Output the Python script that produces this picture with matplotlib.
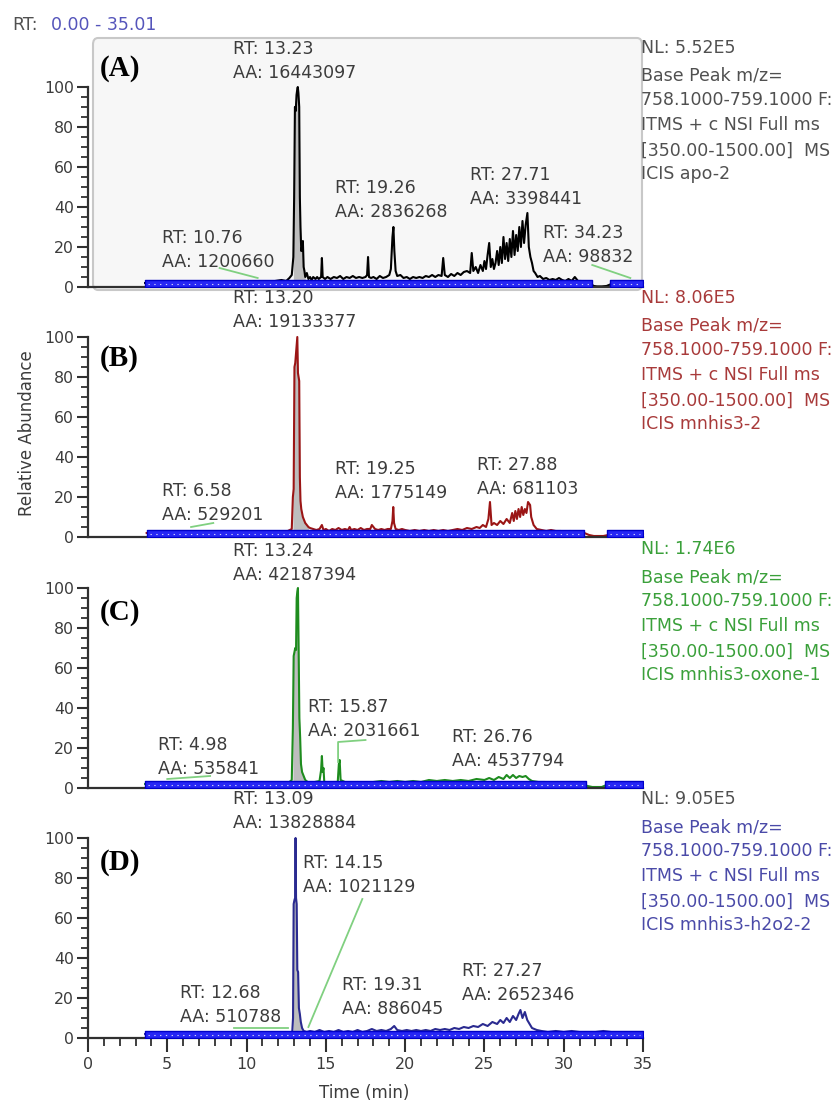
import numpy as np
import matplotlib
matplotlib.use("Agg")
import matplotlib.pyplot as plt
from matplotlib.patches import FancyBboxPatch

# chromatogram traces: (time in min, relative abundance %)
chrom_a = [(3.6, 2), (4.5, 2.5), (5.5, 2), (6.5, 2.5), (7.5, 2), (8.5, 2.5), (9.5, 2), (10.3, 2.5), (10.8, 3),
           (11.3, 2.5), (11.8, 3), (12.2, 3.5), (12.5, 3), (12.7, 4.5), (12.85, 6), (12.95, 15), (13.0, 45),
           (13.05, 90), (13.1, 88), (13.15, 96), (13.2, 99), (13.23, 100), (13.27, 97), (13.32, 90), (13.36, 45),
           (13.4, 30), (13.45, 18), (13.5, 20), (13.55, 23), (13.6, 10), (13.65, 8), (13.7, 5), (13.8, 7),
           (13.9, 4), (14.0, 5), (14.1, 3.5), (14.2, 5), (14.35, 4), (14.45, 5), (14.55, 4), (14.7, 5),
           (14.75, 14.5), (14.8, 5), (14.95, 4), (15.1, 5), (15.3, 4), (15.5, 5), (15.7, 4.5), (15.9, 5.5),
           (16.1, 4), (16.3, 5), (16.5, 4.5), (16.7, 5.5), (16.9, 4.5), (17.1, 5), (17.3, 4.5), (17.5, 5),
           (17.6, 6), (17.66, 15), (17.72, 5), (17.85, 4.5), (18.0, 5), (18.2, 4), (18.4, 5.5), (18.6, 4.5),
           (18.8, 5), (19.0, 6), (19.1, 9), (19.2, 25), (19.26, 30), (19.32, 18), (19.4, 8), (19.5, 5.5),
           (19.7, 6), (19.9, 4.5), (20.1, 5), (20.3, 4), (20.5, 5), (20.7, 4.5), (20.9, 5), (21.1, 4.5),
           (21.3, 5.5), (21.5, 5), (21.7, 6), (21.9, 5), (22.1, 6), (22.3, 5.5), (22.4, 14.5), (22.5, 6),
           (22.7, 5), (22.9, 6.5), (23.1, 5.5), (23.3, 7), (23.5, 6), (23.7, 7.5), (23.9, 8), (24.1, 7),
           (24.2, 17), (24.3, 8), (24.45, 10), (24.6, 7), (24.75, 11), (24.9, 8), (25.0, 13), (25.1, 9),
           (25.2, 16), (25.3, 22), (25.4, 10), (25.5, 14), (25.6, 9), (25.7, 12), (25.8, 18), (25.9, 11),
           (26.0, 20), (26.1, 12), (26.2, 25), (26.3, 14), (26.4, 22), (26.5, 13), (26.6, 24), (26.7, 15),
           (26.8, 28), (26.9, 16), (27.0, 26), (27.1, 18), (27.2, 30), (27.3, 20), (27.4, 33), (27.5, 22),
           (27.6, 31), (27.71, 37), (27.8, 20), (27.9, 15), (28.0, 12), (28.1, 8), (28.2, 7), (28.35, 5),
           (28.5, 5.5), (28.7, 4), (28.9, 4.5), (29.1, 3.5), (29.3, 4), (29.5, 3.5), (29.7, 4.5), (29.9, 3.5),
           (30.1, 3), (30.3, 4), (30.5, 3), (30.7, 5), (30.9, 3), (31.1, 3), (31.3, 2.5), (31.5, 2),
           (31.7, 1.5), (31.9, 0.5), (32.1, 0.3), (32.4, 0.3), (32.7, 0.5), (33.0, 1.5), (33.3, 2), (33.6, 2),
           (33.9, 2), (34.2, 2.5), (34.5, 2), (34.8, 2), (35.0, 2)]

chrom_b = [(3.7, 2), (4.5, 2.5), (5.5, 2), (6.5, 2.5), (7.5, 2), (8.5, 2.5), (9.5, 2), (10.5, 2.5), (11.5, 2),
           (12.2, 2.5), (12.6, 3), (12.85, 4), (12.92, 20), (12.97, 24), (13.02, 85), (13.07, 87), (13.12, 92),
           (13.17, 97), (13.2, 100), (13.24, 82), (13.28, 80), (13.32, 78), (13.36, 30), (13.4, 18), (13.45, 14),
           (13.5, 12), (13.55, 10), (13.6, 9), (13.7, 7), (13.8, 6), (13.9, 5), (14.0, 4.5), (14.2, 4),
           (14.4, 3.5), (14.6, 4), (14.75, 6), (14.85, 3.5), (15.0, 4), (15.2, 3), (15.4, 4), (15.6, 3.5),
           (15.8, 4.5), (16.0, 3.5), (16.2, 4), (16.4, 3.5), (16.5, 5), (16.6, 3.5), (16.8, 4), (17.0, 3.5),
           (17.2, 4.5), (17.4, 3.5), (17.6, 4), (17.8, 4), (17.9, 6), (18.1, 4), (18.3, 3.5), (18.5, 4),
           (18.7, 3.5), (18.9, 4), (19.1, 4), (19.2, 8), (19.25, 15), (19.3, 7), (19.4, 4), (19.6, 3.5),
           (19.8, 4), (20.0, 3.5), (20.3, 3), (20.6, 3.5), (20.9, 3), (21.2, 3.5), (21.5, 3), (21.8, 3.5),
           (22.1, 3), (22.4, 3.5), (22.7, 3), (23.0, 3.5), (23.3, 4), (23.6, 3.5), (23.9, 4.5), (24.2, 4),
           (24.5, 5), (24.7, 4.5), (24.9, 6), (25.1, 5), (25.25, 9), (25.35, 17.5), (25.45, 6), (25.6, 7),
           (25.8, 6), (26.0, 8), (26.2, 6.5), (26.4, 9), (26.6, 7), (26.75, 12), (26.85, 8), (26.95, 13),
           (27.05, 9), (27.15, 14), (27.25, 10), (27.35, 15), (27.45, 11), (27.55, 14), (27.65, 12),
           (27.75, 17.5), (27.88, 16), (27.95, 10), (28.1, 6), (28.3, 4), (28.6, 3.5), (28.9, 3), (29.2, 3.5),
           (29.5, 3), (29.8, 3), (30.1, 2.5), (30.4, 3), (30.7, 2.5), (31.0, 2.5), (31.3, 2), (31.6, 1),
           (31.9, 0.5), (32.2, 0.5), (32.5, 0.5), (32.8, 1), (33.1, 1.5), (33.5, 1.5), (34.0, 1.5),
           (34.5, 1.5), (35.0, 1.5)]

chrom_c = [(3.6, 2), (4.5, 2), (5.5, 2.5), (6.5, 2), (7.5, 2.5), (8.5, 2), (9.5, 2.5), (10.5, 2), (11.5, 2.5),
           (12.3, 2.5), (12.7, 3), (12.85, 4), (12.92, 30), (12.97, 66), (13.02, 68), (13.07, 70), (13.12, 69),
           (13.16, 95), (13.2, 98), (13.24, 100), (13.28, 72), (13.33, 35), (13.38, 25), (13.43, 12), (13.5, 8),
           (13.6, 6), (13.7, 4), (13.85, 3), (14.0, 2.5), (14.3, 3), (14.6, 3.5), (14.7, 9), (14.75, 16),
           (14.8, 8), (14.85, 10), (14.9, 3), (15.2, 2.5), (15.5, 3), (15.75, 3), (15.82, 12), (15.87, 14),
           (15.93, 4), (16.2, 3), (16.6, 2.5), (17.0, 3), (17.5, 2.5), (18.0, 3), (18.5, 3.5), (19.0, 3),
           (19.5, 3.5), (20.0, 3), (20.5, 3.5), (21.0, 3), (21.5, 4), (22.0, 3.5), (22.5, 4), (23.0, 3.5),
           (23.5, 4), (24.0, 3.5), (24.5, 4.5), (25.0, 4), (25.3, 5), (25.6, 4), (25.9, 5.5), (26.2, 4.5),
           (26.4, 6.5), (26.6, 5), (26.8, 6.5), (27.0, 5), (27.2, 6), (27.4, 5.5), (27.6, 6), (27.8, 4.5),
           (28.0, 3.5), (28.4, 3), (28.8, 3), (29.2, 2.5), (29.6, 3), (30.0, 2.5), (30.4, 3), (30.8, 2.5),
           (31.2, 2), (31.5, 1), (31.8, 0.5), (32.1, 0.5), (32.4, 0.5), (32.7, 1.5), (33.2, 2), (33.8, 2),
           (34.4, 2), (35.0, 2)]

chrom_d = [(3.6, 2), (4.5, 2.5), (5.5, 2), (6.5, 2.5), (7.5, 2), (8.5, 2.5), (9.5, 2), (10.5, 2.5), (11.5, 2),
           (12.3, 2.5), (12.7, 2.5), (12.88, 3), (12.93, 10), (12.97, 67), (13.02, 69), (13.06, 70), (13.09, 100),
           (13.12, 70), (13.16, 67), (13.2, 34), (13.25, 33), (13.3, 15), (13.36, 12), (13.42, 8), (13.5, 5),
           (13.6, 3.5), (13.8, 3), (14.0, 3.5), (14.3, 3), (14.6, 4), (14.9, 3), (15.2, 3.5), (15.5, 3),
           (15.8, 4), (16.1, 3), (16.4, 3.5), (16.7, 3), (17.0, 4), (17.3, 3), (17.6, 3.5), (17.9, 4.5),
           (18.2, 3.5), (18.5, 4), (18.8, 3.5), (19.1, 4.5), (19.31, 6), (19.5, 4), (19.8, 3.5), (20.1, 4),
           (20.4, 3.5), (20.7, 4), (21.0, 3.5), (21.3, 4), (21.6, 3.5), (21.9, 4.5), (22.2, 4), (22.5, 4.5),
           (22.8, 4), (23.1, 5), (23.4, 4.5), (23.7, 5.5), (24.0, 5), (24.3, 6), (24.6, 5.5), (24.9, 7),
           (25.2, 6), (25.5, 8), (25.8, 7), (26.0, 9), (26.2, 7.5), (26.4, 10), (26.6, 8), (26.8, 11),
           (27.0, 9), (27.15, 12), (27.27, 14), (27.4, 10), (27.55, 13), (27.7, 9), (27.85, 7), (28.0, 5),
           (28.3, 4), (28.6, 3.5), (29.0, 3), (29.5, 3.5), (30.0, 3), (30.5, 3.5), (31.0, 3), (31.5, 3),
           (32.0, 3), (32.5, 3.5), (33.0, 3), (33.5, 3), (34.0, 3), (34.5, 3), (35.0, 3)]

# integrated main-peak ranges (gray fill)
fill_ranges = [(12.9, 13.75), (12.9, 13.9), (12.9, 13.6), (12.9, 13.5)]

# ICIS baseline segments (blue band)
baselines = [[(3.6, 31.8), (32.9, 35.0)],
             [(3.7, 31.3), (32.7, 35.0)],
             [(3.6, 31.4), (32.6, 35.0)],
             [(3.6, 35.0)]]

# peak labels: RT, AA
peak_rt = [["13.23", "10.76", "19.26", "27.71", "34.23"],
           ["13.20", "6.58", "19.25", "27.88"],
           ["13.24", "4.98", "15.87", "26.76"],
           ["13.09", "14.15", "12.68", "19.31", "27.27"]]
peak_aa = [["16443097", "1200660", "2836268", "3398441", "98832"],
           ["19133377", "529201", "1775149", "681103"],
           ["42187394", "535841", "2031661", "4537794"],
           ["13828884", "1021129", "510788", "886045", "2652346"]]
# label anchor (left x in min, middle y in %)
label_x = [[9.14, 4.67, 15.58, 24.09, 28.69],
           [9.14, 4.67, 15.58, 24.53],
           [9.14, 4.41, 13.87, 22.95],
           [9.14, 13.56, 5.80, 16.02, 23.59]]
label_y = [[113, 18.5, 43.5, 50.25, 21.25],
           [113.5, 17.25, 27.75, 30.25],
           [112.25, 15.75, 34.75, 19.75],
           [113.25, 81.5, 16.25, 20.75, 27.75]]

# green label connectors
connectors = [[[(8.3, 9.5), (10.7, 4.5)], [(31.8, 11), (34.2, 4.5)]],
              [[(6.5, 5), (7.9, 7)]],
              [[(5.0, 4.5), (7.7, 6.0)], [(15.77, 13), (15.77, 23), (17.5, 24)]],
              [[(9.2, 5), (12.6, 5)], [(13.9, 5.5), (17.3, 69.5)]]]

nl_values = ["NL: 5.52E5", "NL: 8.06E5", "NL: 1.74E6", "NL: 9.05E5"]
sample_names = ["ICIS apo-2", "ICIS mnhis3-2", "ICIS mnhis3-oxone-1", "ICIS mnhis3-h2o2-2"]
panel_tags = ["(A)", "(B)", "(C)", "(D)"]
trace_colors = ["#000000", "#9b1515", "#1e8c1e", "#2a2a90"]
info_colors = ["#505050", "#a83a3a", "#3aa03a", "#4a4aa8"]
nl_colors = ["#505050", "#a83a3a", "#3aa03a", "#505050"]

W, H = 840, 1102
TXT = "#3c3c3c"


def fx(px):
    return px / W


def fy(py):
    return 1 - py / H


fig = plt.figure(figsize=(8.4, 11.02), dpi=100)

# light framed box behind panel A
box = FancyBboxPatch((fx(93), fy(290)), fx(642) - fx(93), fy(38) - fy(290),
                     boxstyle="round,pad=0,rounding_size=0.006", transform=fig.transFigure,
                     facecolor="#f7f7f7", edgecolor="#c8c8c8", linewidth=1.5, zorder=-5)
fig.patches.append(box)

chroms = [chrom_a, chrom_b, chrom_c, chrom_d]
bases = [287, 537, 788, 1038]

for i, base in enumerate(bases):
    ax = fig.add_axes([fx(88), fy(base), fx(643) - fx(88), 200 / H], zorder=2)
    ax.patch.set_visible(False)
    t = np.array([p[0] for p in chroms[i]])
    y = np.array([p[1] for p in chroms[i]])

    lo, hi = fill_ranges[i]
    m = (t >= lo) & (t <= hi)
    ax.fill_between(t[m], 0, y[m], color="#bdbdbd", lw=0, zorder=1)
    ax.plot(t, y, color=trace_colors[i], lw=1.5, zorder=2, clip_on=False)

    for s, e in baselines[i]:
        ax.fill_between([s, e], 0, 3.5, facecolor="#2626f5", edgecolor="#0000c8", lw=1, zorder=4)
        ax.plot([s + 0.2, e - 0.2], [1.75, 1.75], color="white", lw=0.8, dashes=(1.2, 4),
                alpha=0.8, zorder=5)

    for seg in connectors[i]:
        ax.plot([p[0] for p in seg], [p[1] for p in seg], color="#80d080", lw=1.3, zorder=3, clip_on=False)

    for rt, aa, lx, ly in zip(peak_rt[i], peak_aa[i], label_x[i], label_y[i]):
        ax.text(lx, ly + 6, "RT: " + rt, fontsize=12.5, color=TXT, ha="left", va="center")
        ax.text(lx, ly - 6, "AA: " + aa, fontsize=12.5, color=TXT, ha="left", va="center")

    # instrument info on the right
    info = [nl_values[i], "Base Peak m/z=", "758.1000-759.1000 F:", "ITMS + c NSI Full ms",
            "[350.00-1500.00]  MS", sample_names[i]]
    offs = [0, 14, 26, 38.5, 51.5, 63]
    for k, line in enumerate(info):
        ax.text(34.87, 119.5 - offs[k], line, fontsize=12.5, ha="left", va="center",
                color=nl_colors[i] if k == 0 else info_colors[i])

    ax.text(fx(100), fy([69, 358, 612, 862][i]), panel_tags[i], transform=fig.transFigure,
            fontsize=21, fontweight="bold", family=["Liberation Serif", "DejaVu Serif"],
            ha="left", va="center", color="black")

    ax.set_xlim(0, 35)
    ax.set_ylim(0, 100)
    for sp in ["top", "right"]:
        ax.spines[sp].set_visible(False)
    for sp in ["left", "bottom"]:
        ax.spines[sp].set_color("#303030")
        ax.spines[sp].set_linewidth(1.6)
    ax.set_yticks([0, 20, 40, 60, 80, 100])
    ax.set_yticks(np.arange(0, 101, 5), minor=True)
    ax.tick_params(axis="y", which="major", length=8, width=1.5, color="#303030",
                   labelsize=11.3, labelcolor=TXT, pad=2)
    ax.tick_params(axis="y", which="minor", length=5, width=1.3, color="#303030")
    if i == 3:
        ax.set_xticks(np.arange(0, 36, 5))
        ax.set_xticks(np.arange(0, 36, 1), minor=True)
        ax.tick_params(axis="x", which="major", length=10, width=1.5, color="#303030",
                       labelsize=11.5, labelcolor=TXT, pad=4)
        ax.tick_params(axis="x", which="minor", length=6, width=1.3, color="#303030")
    else:
        ax.set_xticks([])

fig.text(fx(12), fy(25), "RT:", fontsize=12.5, color="#505050", ha="left", va="center")
fig.text(fx(51), fy(25), "0.00 - 35.01", fontsize=12.5, color="#5555bb", ha="left", va="center")
fig.text(fx(27), fy(433), "Relative Abundance", fontsize=12, color=TXT, rotation=90,
         ha="center", va="center")
fig.text(fx(364), fy(1093), "Time (min)", fontsize=12, color=TXT, ha="center", va="center")

fig.savefig("out.png", dpi=100)
